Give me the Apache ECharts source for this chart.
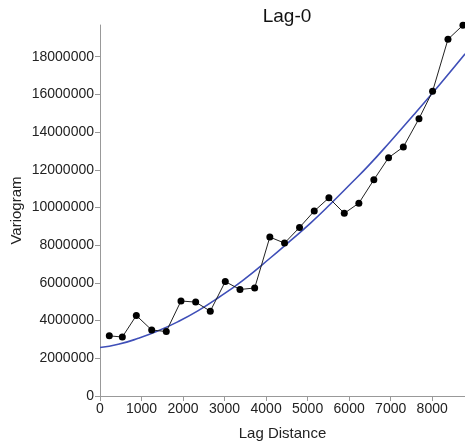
<!DOCTYPE html>
<html>
<head>
<meta charset="utf-8">
<script src="https://cdn.jsdelivr.net/npm/echarts@6/dist/echarts.min.js"></script>
<style>
  html, body { margin: 0; padding: 0; background: #fff; }
  #chart { width: 465px; height: 447px; }
</style>
</head>
<body>
<div id="chart"></div>
<script>
// empirical variogram: lag centre and value
var lagDist = [224, 538, 875, 1245, 1596, 1950, 2304, 2656, 3017, 3371, 3725, 4090, 4444,
    4805, 5159, 5512, 5883, 6234, 6595, 6949, 7305, 7682, 8009, 8380, 8741];
var variogram = [3190000, 3130000, 4270000, 3500000, 3420000, 5040000, 4980000, 4500000,
    6070000, 5650000, 5730000, 8430000, 8110000, 8940000, 9810000, 10510000, 9690000,
    10230000, 11470000, 12640000, 13210000, 14710000, 16160000, 18920000, 19670000];
// fitted model curve
var modelDist = [0, 440, 922, 1403, 1885, 2366, 2848, 3450, 4100, 4581, 5063, 5544,
    6025, 6466, 6988, 7590, 8192, 8794];
var modelValue = [2570000, 2740000, 3060000, 3460000, 3950000, 4530000, 5210000, 6150000,
    7320000, 8230000, 9160000, 10170000, 11230000, 12220000, 13490000, 15000000, 16550000, 18150000];
var xTicks = [0, 1000, 2000, 3000, 4000, 5000, 6000, 7000, 8000];
var yTicks = [0, 2000000, 4000000, 6000000, 8000000, 10000000, 12000000, 14000000, 16000000, 18000000];

var chart = echarts.init(document.getElementById('chart'));

function pairs(xs, ys) {
    var out = [];
    for (var i = 0; i < xs.length; i++) {
        out.push([xs[i], ys[i]]);
    }
    return out;
}

// plain numbers, no thousands separator
function plain(v) {
    return String(v);
}

var fontFamily = '"Liberation Sans", Arial, sans-serif';

var option = {
    animation: false,
    title: {
        text: 'Lag-0',
        left: 282,
        textAlign: 'center',
        top: 2,
        textStyle: { fontFamily: fontFamily, fontSize: 19, fontWeight: 'normal', color: '#111' }
    },
    grid: { left: 100, right: 0, top: 25, bottom: 51, containLabel: false, outerBoundsMode: 'none' },
    xAxis: {
        type: 'value',
        min: 0,
        max: 8790,
        name: 'Lag Distance',
        nameLocation: 'middle',
        nameGap: 30,
        nameMoveOverlap: false,
        nameTextStyle: { fontFamily: fontFamily, fontSize: 15, color: '#222' },
        axisLine: { show: true, lineStyle: { color: '#999', width: 1 } },
        axisTick: { show: true, length: 5, lineStyle: { color: '#999' }, customValues: xTicks },
        axisLabel: { fontFamily: fontFamily, fontSize: 14, color: '#222', margin: 6,
            customValues: xTicks, formatter: plain },
        splitLine: { show: false }
    },
    yAxis: {
        type: 'value',
        min: 0,
        max: 19680000,
        name: 'Variogram',
        nameLocation: 'middle',
        nameGap: 76,
        nameMoveOverlap: false,
        nameTextStyle: { fontFamily: fontFamily, fontSize: 15, color: '#222' },
        axisLine: { show: true, lineStyle: { color: '#999', width: 1 } },
        axisTick: { show: true, length: 5, lineStyle: { color: '#999' }, customValues: yTicks },
        axisLabel: { fontFamily: fontFamily, fontSize: 14, color: '#222', margin: 6,
            customValues: yTicks, formatter: plain },
        splitLine: { show: false }
    },
    series: [{
        name: 'model',
        type: 'line',
        data: pairs(modelDist, modelValue),
        smooth: true,
        showSymbol: false,
        lineStyle: { color: '#3f4fb8', width: 1.6 },
        z: 2
    }, {
        name: 'empirical',
        type: 'line',
        data: pairs(lagDist, variogram),
        symbol: 'circle',
        symbolSize: 7,
        itemStyle: { color: '#000' },
        lineStyle: { color: '#222', width: 1 },
        z: 3
    }]
};

chart.setOption(option);
</script>
</body>
</html>
